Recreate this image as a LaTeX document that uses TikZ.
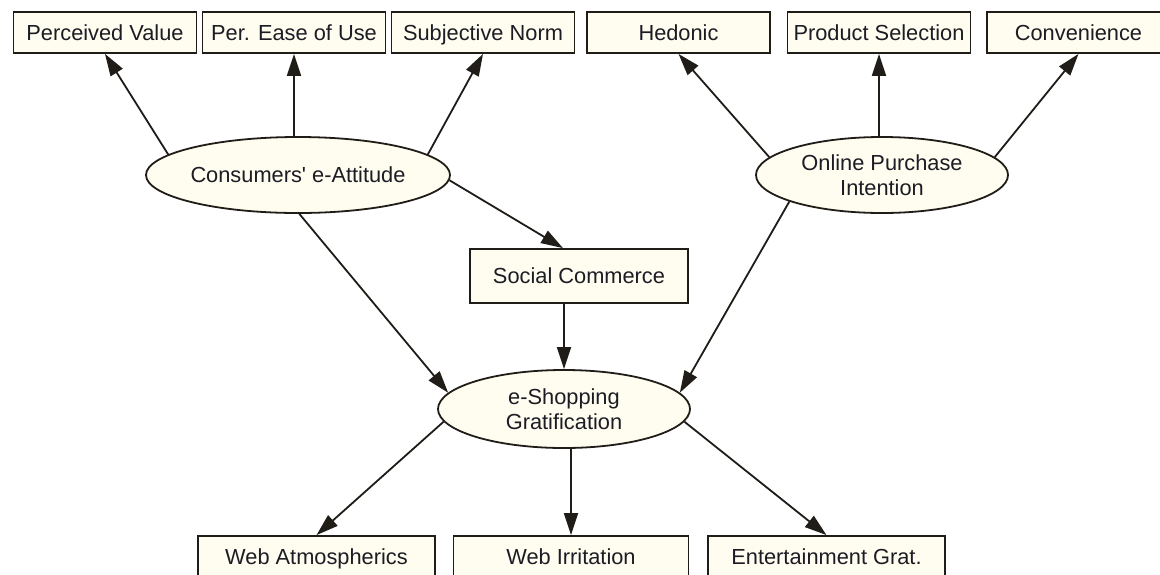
\documentclass[tikz,border=0pt]{standalone}
\usepackage{fontspec}
\setmainfont{Liberation Sans}
\usetikzlibrary{arrows.meta,shapes.geometric}
\definecolor{boxfill}{RGB}{255,253,240}
\definecolor{inkline}{RGB}{32,28,24}
\definecolor{inktext}{RGB}{28,28,36}
\begin{document}
\begin{tikzpicture}[x=1pt, y=-1pt,
    every node/.style={font=\fontsize{21.8}{25.5}\selectfont, text=inktext},
    box/.style={draw=inkline, fill=boxfill, line width=1.8pt, rectangle, inner sep=0pt, text height=16pt, text depth=1pt, minimum height=41pt, minimum width=183pt},
    oval/.style={draw=inkline, fill=boxfill, line width=1.8pt, ellipse, inner sep=0pt, align=center, minimum width=252pt, minimum height=76pt},
    link/.style={draw=inkline, line width=1.8pt, -{Triangle[length=22pt,width=14pt]}}]
    \useasboundingbox (0,0) rectangle (1160,574);
    \fill[white] (0,0) rectangle (1160,574);
    \clip (0,0) rectangle (1160,574);

    % top row
    \node[box] (pv) at (105,32.5) {Perceived Value};
    \node[box] (peu) at (294,32.5) {Per. Ease of Use};
    \node[box] (sn) at (483,32.5) {Subjective Norm};
    \node[box] (hed) at (678.5,32.5) {Hedonic};
    \node[box] (ps) at (879,32.5) {Product Selection};
    \node[box] (conv) at (1078.5,32.5) {Convenience};

    % middle
    \node[oval] (att) at (298,175) {Consumers\textquotesingle\ e-Attitude};
    \node[oval] (opi) at (882,175) {Online Purchase\\Intention};
    \node[box, minimum width=218pt, minimum height=54pt] (sc) at (579,276) {Social Commerce};
    \node[oval, minimum height=78pt] (esh) at (564,409) {e-Shopping\\Gratification};

    % bottom row (cut by the page edge)
    \node[box, minimum width=237pt] (wa) at (316.5,556.5) {Web Atmospherics};
    \node[box, minimum width=235pt] (wi) at (571,556.5) {Web Irritation};
    \node[box, minimum width=237pt] (eg) at (826.5,556.5) {Entertainment Grat.};

    \draw[link] (att.171) -- (pv.south);
    \draw[link] (peu.south |- att.north) -- (peu.south);
    \draw[link] (att.9) -- (sn.south);
    \draw[link] (att.-2) -- ([xshift=-16pt]sc.north);
    \draw[link] (att.-88) -- (esh.172);
    \draw[link] (esh.north |- sc.south) -- (esh.north);

    \draw[link] (opi.171) -- (hed.south);
    \draw[link] (ps.south |- opi.north) -- (ps.south);
    \draw[link] (opi.9) -- (conv.south);
    \draw[link] (opi.196) -- (esh.8);

    \draw[link] (esh.186) -- (wa.north);
    \draw[link] (wi.north |- esh.south) -- (wi.north);
    \draw[link] (esh.-6) -- (eg.north);
\end{tikzpicture}
\end{document}
